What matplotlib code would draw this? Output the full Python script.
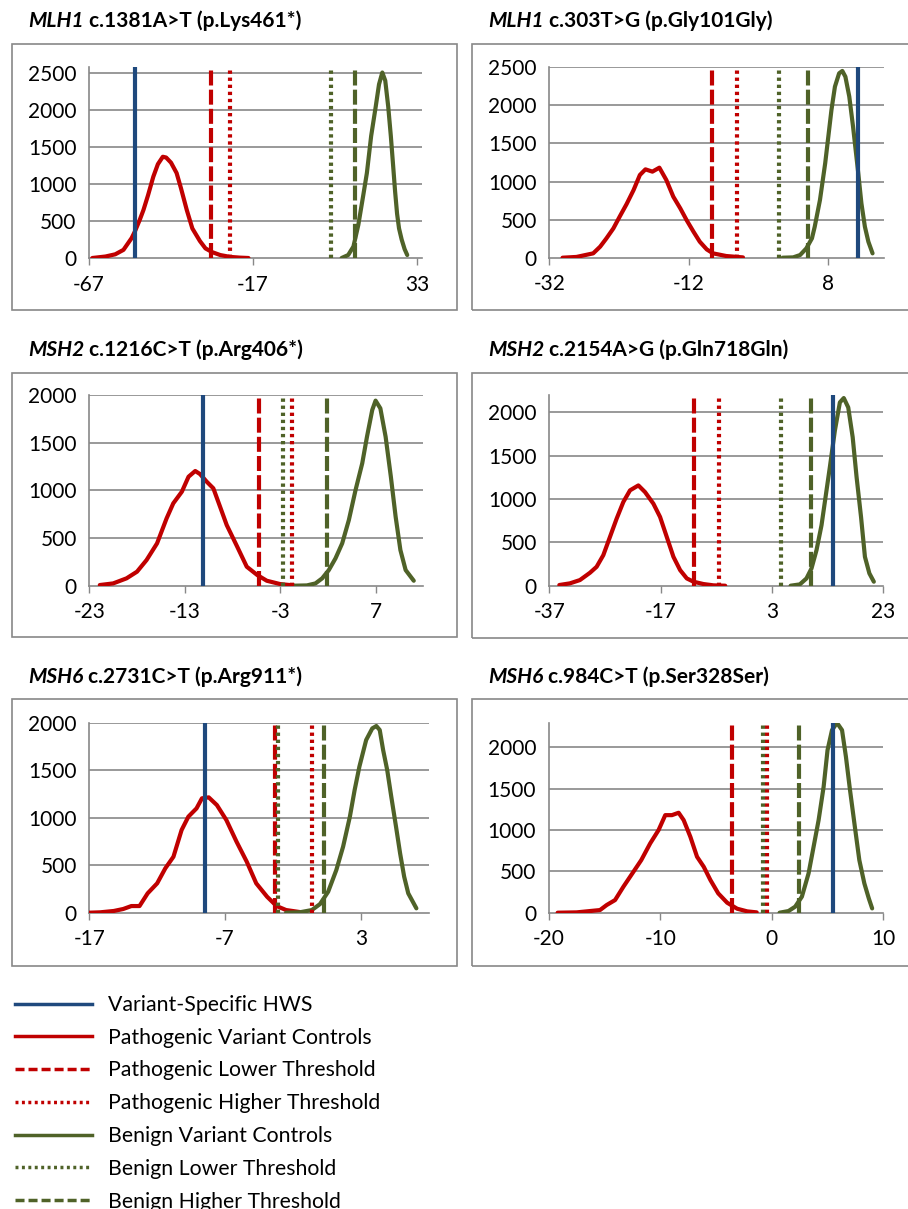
import matplotlib
matplotlib.use("Agg")
import matplotlib.pyplot as plt
from matplotlib.lines import Line2D
from matplotlib.patches import Rectangle

plt.rcParams['font.family'] = ['Lato', 'DejaVu Sans']
plt.rcParams['axes.unicode_minus'] = False

W, H = 908, 1209

# ---- data ----
genes = ["MLH1", "MLH1", "MSH2", "MSH2", "MSH6", "MSH6"]
variants = ["c.1381A>T (p.Lys461*)", "c.303T>G (p.Gly101Gly)",
            "c.1216C>T (p.Arg406*)", "c.2154A>G (p.Gln718Gln)",
            "c.2731C>T (p.Arg911*)", "c.984C>T (p.Ser328Ser)"]

xticks = [[-67, -17, 33], [-32, -12, 8], [-23, -13, -3, 7],
          [-37, -17, 3, 23], [-17, -7, 3], [-20, -10, 0, 10]]
yticks = [[0, 500, 1000, 1500, 2000, 2500], [0, 500, 1000, 1500, 2000, 2500],
          [0, 500, 1000, 1500, 2000], [0, 500, 1000, 1500, 2000],
          [0, 500, 1000, 1500, 2000], [0, 500, 1000, 1500, 2000]]
xlims = [(-67, 34.5), (-32, 16), (-23, 12), (-37, 23), (-17, 8), (-20, 10)]
ylims = [(0, 2590), (0, 2500), (0, 2000), (0, 2200), (0, 2000), (0, 2300)]

hws = [-53, 12.35, -11.1, 14.0, -8.45, 5.5]
path_lower = [-29.8, -8.6, -5.2, -11.0, -3.3, -3.6]
path_higher = [-24.0, -5.0, -1.8, -6.5, -0.6, -0.45]
benign_lower = [6.7, 0.9, -2.7, 4.6, -3.1, -0.8]
benign_higher = [14.2, 5.2, 1.9, 10.1, 0.3, 2.4]

red1_x = [-66, -62, -59, -56.5, -54, -53, -51.5, -50.4, -49, -47.4, -46, -44.5, -43.5,
          -42, -40.3, -39, -37.2, -35.5, -33.2, -31.5, -29.5, -27, -24, -21, -18.4]
red1_y = [0, 20, 50, 110, 270, 360, 520, 650, 850, 1100, 1270, 1370, 1360,
          1290, 1150, 950, 650, 400, 230, 130, 80, 40, 15, 5, 0]
grn1_x = [10, 12, 13.6, 15.1, 16.6, 17.7, 19, 20.4, 21.4, 22.4, 23.3, 24.2, 25.0,
          25.7, 26.3, 26.9, 27.5, 28.3, 29.2, 30.0]
grn1_y = [0, 40, 155, 450, 850, 1150, 1650, 2050, 2350, 2510, 2400, 2050, 1650,
          1250, 900, 600, 400, 250, 120, 40]

red2_x = [-30.1, -28.1, -25.7, -24.7, -23.8, -22.8, -21.9, -20.9, -19.9, -19.0, -18.2,
          -17.2, -16.2, -15.2, -14.2, -13.2, -12.3, -11.3, -10.4, -9.4, -8.5, -6.6, -4.2]
red2_y = [0, 10, 57, 145, 254, 385, 539, 705, 889, 1086, 1160,
          1130, 1182, 1020, 801, 648, 495, 341, 210, 109, 57, 22, 4]
grn2_x = [1.5, 3.0, 4.0, 4.9, 5.7, 6.1, 6.85, 7.6, 8.05, 8.5, 9.0, 9.6, 10.06,
          10.5, 11.06, 11.6, 12.35, 12.8, 13.3, 13.8, 14.4]
grn2_y = [0, 4, 35, 123, 254, 407, 757, 1239, 1589, 1940, 2246, 2421, 2452,
          2377, 2115, 1721, 1108, 714, 407, 210, 57]

red3_x = [-21.9, -20.5, -19.1, -18.0, -17.0, -15.9, -14.9, -14.2, -13.3, -12.6, -11.9,
          -11.4, -10.7, -10.0, -9.3, -8.6, -7.5, -6.5, -5.4, -4.4, -3.0, -1.6]
red3_y = [7, 24, 77, 147, 269, 444, 706, 864, 986, 1143, 1203,
          1171, 1091, 1021, 829, 636, 409, 199, 112, 52, 17, 3]
grn3_x = [-1.6, -0.2, 0.7, 1.4, 2.1, 2.8, 3.5, 4.2, 4.9, 5.6, 6.1, 6.65, 7.0,
          7.5, 8.05, 8.6, 9.1, 9.6, 10.15, 11.0]
grn3_y = [0, 3, 24, 77, 164, 287, 444, 689, 1003, 1283, 1563, 1843, 1941,
          1860, 1563, 1143, 724, 374, 164, 52]

red4_x = [-35.2, -33.3, -31.5, -29.7, -28.5, -27.3, -26.1, -24.9, -23.7, -22.5, -21.0,
          -19.8, -18.3, -17.1, -15.9, -14.7, -13.5, -12.3, -11.1, -9.3, -7.5, -5.4]
red4_y = [8, 27, 65, 149, 218, 352, 563, 774, 966, 1100, 1157,
          1080, 946, 793, 563, 333, 180, 84, 46, 19, 4, 0]
grn4_x = [6.35, 8.0, 9.2, 10.1, 11.0, 11.9, 12.8, 13.4, 14.3, 15.2, 15.9,
          16.7, 17.5, 18.2, 19.0, 19.7, 20.5, 21.3]
grn4_y = [0, 15, 84, 199, 410, 697, 1100, 1368, 1789, 2115, 2165,
          2057, 1713, 1253, 793, 333, 142, 46]

red5_x = [-17.0, -16.2, -15.2, -14.5, -13.9, -13.3, -12.7, -12.0, -11.4, -10.8, -10.2,
          -9.7, -9.1, -8.7, -8.2, -7.6, -6.9, -6.15, -5.4, -4.7, -3.9, -3.2, -2.5, -1.5]
red5_y = [0, 4, 18, 39, 70, 70, 204, 309, 467, 589, 870,
          1011, 1098, 1204, 1214, 1133, 975, 747, 537, 309, 168, 70, 28, 7]
grn5_x = [-2.5, -1.5, -0.6, 0.0, 0.6, 1.2, 1.7, 2.2, 2.55, 2.9, 3.4, 3.85, 4.15,
          4.4, 4.65, 4.95, 5.25, 5.6, 5.9, 6.2, 6.5, 7.1]
grn5_y = [0, 4, 28, 91, 221, 449, 695, 1011, 1291, 1537, 1818, 1940, 1965,
          1923, 1712, 1502, 1221, 905, 625, 379, 204, 46]

red6_x = [-19.2, -17.5, -16.3, -15.4, -14.8, -14.05, -13.3, -12.4, -11.7, -10.9, -10.15,
          -9.55, -8.95, -8.35, -7.9, -7.3, -6.7, -6.1, -5.5, -4.8, -4.0, -3.1, -2.2, -1.35]
red6_y = [0, 4, 20, 32, 93, 153, 315, 496, 637, 839, 1000,
          1181, 1181, 1210, 1121, 919, 677, 556, 395, 234, 121, 48, 16, 4]
grn6_x = [0.7, 1.5, 2.1, 2.7, 3.3, 3.75, 4.2, 4.65, 5.0, 5.4, 5.85, 6.3, 6.65,
          7.0, 7.45, 7.85, 8.3, 8.7, 9.0]
grn6_y = [0, 20, 73, 194, 476, 798, 1121, 1524, 1968, 2210, 2298, 2210, 1887,
          1500, 1040, 637, 355, 173, 52]

red_x = [red1_x, red2_x, red3_x, red4_x, red5_x, red6_x]
red_y = [red1_y, red2_y, red3_y, red4_y, red5_y, red6_y]
grn_x = [grn1_x, grn2_x, grn3_x, grn4_x, grn5_x, grn6_x]
grn_y = [grn1_y, grn2_y, grn3_y, grn4_y, grn5_y, grn6_y]

legend_labels = ["Variant-Specific HWS", "Pathogenic Variant Controls",
                 "Pathogenic Lower Threshold", "Pathogenic Higher Threshold",
                 "Benign Variant Controls", "Benign Lower Threshold",
                 "Benign Higher Threshold"]

# ---- layout (pixels, from top-left) ----
axes_px = [(89, 66.6, 422, 258), (549.3, 67.3, 883.7, 257.7),
           (89.3, 395, 423.3, 585.7), (549.3, 395, 883.3, 585.7),
           (89.3, 722.7, 428.6, 912.7), (548.7, 722.7, 883.3, 912.7)]
frames_px = [(12, 44, 457.5, 310), (472, 44, 930, 310),
             (12, 373, 457.5, 637), (472, 373, 930, 638),
             (12, 699, 457.5, 966), (472, 699, 930, 966)]
title_px = [(28, 27), (488, 27), (28, 356), (488, 356), (28, 683), (488, 683)]

BLUE = '#1F497D'
RED = '#C00000'
GREEN = '#4F6228'
GRAY = '#888888'
DASH = (0, (3.6, 1.0))
DOT = (0, (0.8, 0.9))

fig = plt.figure(figsize=(W / 100, H / 100), dpi=100)


def fx(px):
    return px / W


def fy(py):
    return 1 - py / H


for i in range(6):
    l, t, r, b = frames_px[i]
    fig.add_artist(Rectangle((fx(l), fy(b)), fx(r) - fx(l), fy(t) - fy(b),
                             transform=fig.transFigure, fill=False,
                             edgecolor=GRAY, lw=1.2))
    l, t, r, b = axes_px[i]
    ax = fig.add_axes([fx(l), fy(b), fx(r) - fx(l), fy(t) - fy(b)])
    ax.set_facecolor('none')
    for s in ['top', 'right']:
        ax.spines[s].set_visible(False)
    for s in ['left', 'bottom']:
        ax.spines[s].set_color(GRAY)
        ax.spines[s].set_linewidth(1.2)
    ax.set_xlim(*xlims[i])
    ax.set_ylim(*ylims[i])
    ax.set_xticks(xticks[i])
    ax.set_yticks(yticks[i])
    ax.tick_params(axis='x', direction='out', length=5, width=1, color=GRAY,
                   labelsize=15, pad=7)
    ax.tick_params(axis='y', length=0, labelsize=15, pad=9)
    for yv in yticks[i][1:]:
        ax.axhline(yv, color=GRAY, lw=1.2, zorder=1)

    ax.plot(red_x[i], red_y[i], color=RED, lw=3, zorder=3,
            solid_capstyle='round', solid_joinstyle='round')
    ax.plot(grn_x[i], grn_y[i], color=GREEN, lw=3, zorder=3,
            solid_capstyle='round', solid_joinstyle='round')
    ax.axvline(path_lower[i], color=RED, lw=3, ls=DASH, zorder=4)
    ax.axvline(path_higher[i], color=RED, lw=3, ls=DOT, zorder=4)
    ax.axvline(benign_lower[i], color=GREEN, lw=3, ls=DOT, zorder=4)
    ax.axvline(benign_higher[i], color=GREEN, lw=3, ls=DASH, zorder=4)
    ax.axvline(hws[i], color=BLUE, lw=3, zorder=5)

    # title: italic gene name then the variant
    tx, ty = title_px[i]
    g = fig.text(fx(tx), fy(ty), genes[i], fontsize=15, fontweight='bold',
                 fontstyle='italic', va='baseline', ha='left')
    fig.canvas.draw()
    ext = g.get_window_extent()
    fig.text(ext.x1 / W + 5 / W, fy(ty), variants[i], fontsize=15,
             fontweight='bold', va='baseline', ha='left')

handles = [
    Line2D([], [], color=BLUE, lw=2.5),
    Line2D([], [], color=RED, lw=2.5),
    Line2D([], [], color=RED, lw=2.5, ls=(0, (2.6, 1.15))),
    Line2D([], [], color=RED, lw=2.5, ls=(0, (0.85, 1.0))),
    Line2D([], [], color=GREEN, lw=2.5),
    Line2D([], [], color=GREEN, lw=2.5, ls=(0, (0.85, 1.0))),
    Line2D([], [], color=GREEN, lw=2.5, ls=(0, (2.6, 1.15))),
]
fig.legend(handles, legend_labels, loc='upper left',
           bbox_to_anchor=(fx(15), fy(995)), frameon=False, fontsize=15.3,
           handlelength=3.6, handletextpad=0.8, labelspacing=0.6,
           borderpad=0, borderaxespad=0)

fig.savefig("out.png", dpi=100)
